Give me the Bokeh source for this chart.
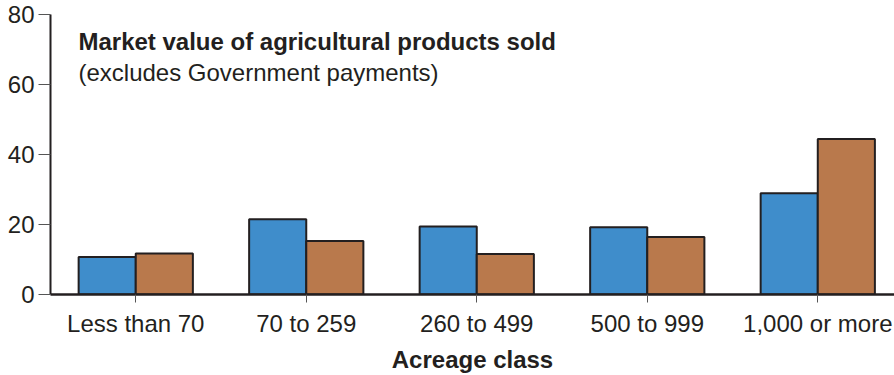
from bokeh.plotting import figure
from bokeh.models import ColumnDataSource, Range1d, FixedTicker, Label
from bokeh.transform import dodge
from bokeh.embed import file_html
from bokeh.resources import INLINE

categories = ["Less than 70", "70 to 259", "260 to 499", "500 to 999", "1,000 or more"]
series_a = [10.7, 21.5, 19.4, 19.2, 28.9]
series_b = [11.7, 15.3, 11.6, 16.4, 44.4]
y_ticks = [0, 20, 40, 60, 80]
title_text = "Market value of agricultural products sold"
subtitle_text = "(excludes Government payments)"
x_title = "Acreage class"

xs = list(range(len(categories)))
src = ColumnDataSource(dict(x=xs, a=series_a, b=series_b))

FONT = "Liberation Sans"
DARK = "#231f20"
FS = "24px"

p = figure(width=894, height=375, output_backend="svg", toolbar_location=None,
           x_range=Range1d(-0.5, 4.45), y_range=Range1d(0, 80),
           min_border_left=50, min_border_right=0, min_border_top=14, min_border_bottom=80)

bw = 0.335
p.vbar(x=dodge("x", -bw / 2, range=p.x_range), top="a", width=bw, source=src,
       fill_color="#3f8dcb", line_color=DARK, line_width=2)
p.vbar(x=dodge("x", bw / 2, range=p.x_range), top="b", width=bw, source=src,
       fill_color="#b9794c", line_color=DARK, line_width=2)

p.xgrid.visible = False
p.ygrid.visible = False
p.outline_line_color = None
p.background_fill_color = "white"
p.border_fill_color = "white"

# y axis
ya = p.yaxis[0]
ya.ticker = FixedTicker(ticks=y_ticks)
ya.axis_line_width = 2
ya.axis_line_color = DARK
ya.major_tick_out = 12
ya.major_tick_in = 0
ya.major_tick_line_color = "#555555"
ya.major_tick_line_width = 1
ya.minor_tick_line_color = None
ya.major_label_text_font = FONT
ya.major_label_text_font_size = FS
ya.major_label_text_color = DARK
ya.major_label_standoff = 4

# x axis
xa = p.xaxis[0]
xa.ticker = FixedTicker(ticks=xs)
xa.major_label_overrides = {i: c for i, c in enumerate(categories)}
xa.axis_line_width = 2.5
xa.axis_line_color = DARK
xa.major_tick_out = 8
xa.major_tick_in = 0
xa.major_tick_line_color = "#555555"
xa.major_tick_line_width = 1
xa.minor_tick_line_color = None
xa.major_label_text_font = FONT
xa.major_label_text_font_size = FS
xa.major_label_text_color = DARK
xa.major_label_standoff = 7
xa.axis_label = x_title
xa.axis_label_text_font = FONT
xa.axis_label_text_font_size = FS
xa.axis_label_text_font_style = "bold"
xa.axis_label_text_color = DARK
xa.axis_label_standoff = 6

p.add_layout(Label(x=-0.336, y=72.3, text=title_text, text_font=FONT,
                   text_font_size=FS, text_font_style="bold", text_color=DARK,
                   text_baseline="middle", text_align="left"))
p.add_layout(Label(x=-0.336, y=63.4, text=subtitle_text, text_font=FONT,
                   text_font_size=FS, text_color=DARK,
                   text_baseline="middle", text_align="left"))

open("out.html", "w").write(file_html(p, INLINE))
